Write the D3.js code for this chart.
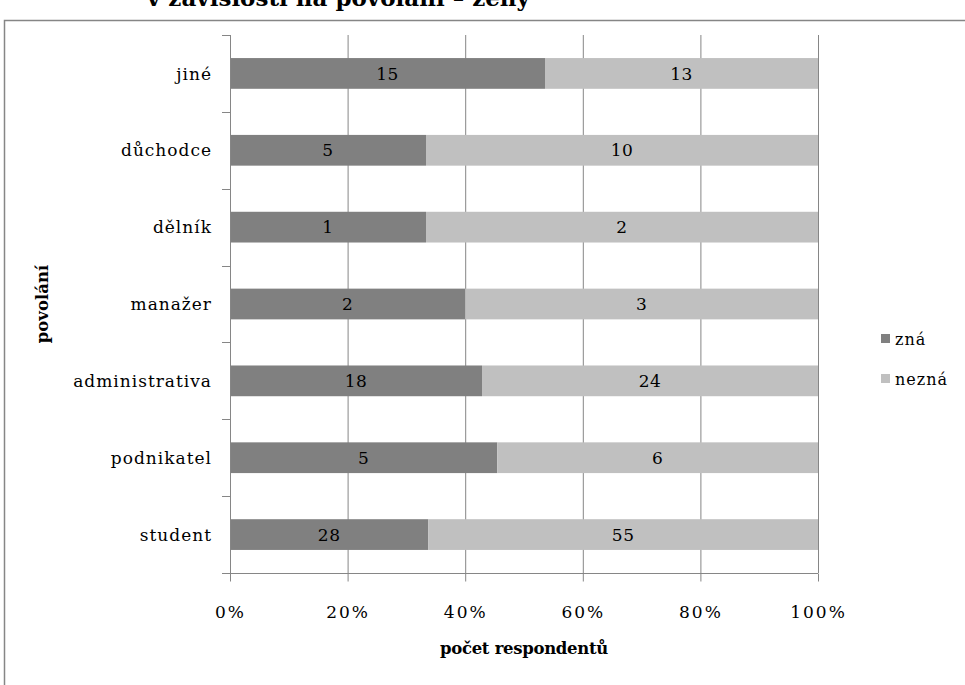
<!DOCTYPE html>
<html lang="cs">
<head>
    <meta charset="UTF-8">
    <script src="https://cdn.jsdelivr.net/npm/d3@7"></script>
    <title>povolání</title>
    <style>
        body {
            margin: 0;
            background: white;
        }
        text {
            font-family: "DejaVu Serif", serif;
        }
    </style>
</head>
<body>
    <div id="chart"></div>
    <script>
        /*------------------- data --------------------*/
        const categories = ["jiné", "důchodce", "dělník", "manažer", "administrativa", "podnikatel", "student"];
        const zna = [15, 5, 1, 2, 18, 5, 28];
        const nezna = [13, 10, 2, 3, 24, 6, 55];
        const seriesNames = ["zná", "nezná"];
        const xTicks = [0, 0.2, 0.4, 0.6, 0.8, 1];

        const colors = ["#808080", "#c0c0c0"];

        /*------------------- sizes --------------------*/
        const width = 965;
        const height = 685;
        const margin = { left: 230, right: 147, top: 35, bottom: 112 };

        const svg = d3.select("#chart").append("svg")
            .attr("width", width)
            .attr("height", height);

        // outer chart border (runs off the right and bottom edges)
        svg.append("rect")
            .attr("x", 4.5)
            .attr("y", 20.5)
            .attr("width", 1000)
            .attr("height", 1000)
            .attr("fill", "none")
            .attr("stroke", "#868686")
            .attr("stroke-width", 1.5);

        // leftover of the title from the page above, cut by the top edge
        svg.append("text")
            .attr("x", 147)
            .attr("y", 6)
            .attr("font-size", 23)
            .attr("font-weight", "bold")
            .text("v závislosti na povolání – ženy");

        const x = d3.scaleLinear()
            .domain([0, 1])
            .range([margin.left, width - margin.right]);

        const y = d3.scaleBand()
            .domain(categories)
            .range([margin.top, height - margin.bottom])
            .paddingInner(0.6)
            .paddingOuter(0.3);

        // band boundaries for the y ticks
        const yEdges = d3.range(categories.length + 1).map(i => margin.top + i * (height - margin.bottom - margin.top) / categories.length);

        // gridlines
        svg.append("g")
            .selectAll("line")
            .data(xTicks.slice(1))
            .enter()
            .append("line")
            .attr("x1", d => x(d) + 0.5)
            .attr("x2", d => x(d) + 0.5)
            .attr("y1", margin.top)
            .attr("y2", height - margin.bottom)
            .attr("stroke", "#868686")
            .attr("stroke-width", 1);

        // stacked bars
        const stackData = categories.map((c, i) => {
            const total = zna[i] + nezna[i];
            return { cat: c, values: [zna[i], nezna[i]], total: total };
        });

        const rows = svg.append("g")
            .selectAll("g")
            .data(stackData)
            .enter()
            .append("g");

        rows.each(function (d) {
            let start = 0;
            const g = d3.select(this);
            d.values.forEach((v, k) => {
                const share = v / d.total;
                g.append("rect")
                    .attr("x", x(start))
                    .attr("y", y(d.cat))
                    .attr("width", x(start + share) - x(start))
                    .attr("height", y.bandwidth())
                    .attr("fill", colors[k]);
                g.append("text")
                    .attr("x", (x(start) + x(start + share)) / 2)
                    .attr("y", y(d.cat) + y.bandwidth() / 2)
                    .attr("dy", "0.36em")
                    .attr("text-anchor", "middle")
                    .attr("font-size", 17)
                    .attr("letter-spacing", 0.5)
                    .attr("fill", "#000")
                    .text(v);
                start += share;
            });
        });

        // y axis
        const yAxis = svg.append("g");
        yAxis.append("line")
            .attr("x1", margin.left + 0.5)
            .attr("x2", margin.left + 0.5)
            .attr("y1", margin.top)
            .attr("y2", height - margin.bottom)
            .attr("stroke", "#868686");
        yAxis.selectAll("line.tick")
            .data(yEdges)
            .enter()
            .append("line")
            .attr("class", "tick")
            .attr("x1", margin.left - 8)
            .attr("x2", margin.left)
            .attr("y1", d => Math.round(d) + 0.5)
            .attr("y2", d => Math.round(d) + 0.5)
            .attr("stroke", "#868686");
        yAxis.selectAll("text")
            .data(categories)
            .enter()
            .append("text")
            .attr("x", margin.left - 18)
            .attr("y", d => y(d) + y.bandwidth() / 2)
            .attr("dy", "0.36em")
            .attr("text-anchor", "end")
            .attr("font-size", 17)
            .attr("letter-spacing", 1)
            .text(d => d);

        // x axis
        const xAxis = svg.append("g")
            .attr("transform", `translate(0,${height - margin.bottom + 0.5})`)
            .call(d3.axisBottom(x)
                .tickValues(xTicks)
                .tickFormat(d3.format(".0%"))
                .tickSize(8)
                .tickPadding(24));
        xAxis.select(".domain").attr("stroke", "#868686").attr("d", `M${margin.left},0H${width - margin.right}`);
        xAxis.selectAll(".tick line").attr("stroke", "#868686");
        xAxis.selectAll(".tick text")
            .attr("font-family", "DejaVu Sans")
            .attr("font-weight", 200)
            .attr("font-size", 17)
            .attr("letter-spacing", 2)
            .attr("fill", "#000");

        // axis titles, centred on the plot area
        svg.append("text")
            .attr("x", (margin.left + width - margin.right) / 2)
            .attr("y", 654)
            .attr("text-anchor", "middle")
            .attr("font-size", 16.5)
            .attr("font-weight", "bold")
            .attr("letter-spacing", -0.3)
            .text("počet respondentů");

        svg.append("text")
            .attr("transform", `translate(48,${(margin.top + height - margin.bottom) / 2}) rotate(-90)`)
            .attr("text-anchor", "middle")
            .attr("font-size", 16.5)
            .attr("font-weight", "bold")
            .text("povolání");

        // legend
        const legend = svg.append("g")
            .selectAll("g")
            .data(seriesNames)
            .enter()
            .append("g")
            .attr("transform", (d, i) => `translate(881,${334 + i * 40})`);
        legend.append("rect")
            .attr("width", 9)
            .attr("height", 9)
            .attr("fill", (d, i) => colors[i]);
        legend.append("text")
            .attr("x", 14)
            .attr("y", 5)
            .attr("dy", "0.36em")
            .attr("font-size", 16)
            .attr("letter-spacing", 1)
            .text(d => d);
    </script>
</body>
</html>
